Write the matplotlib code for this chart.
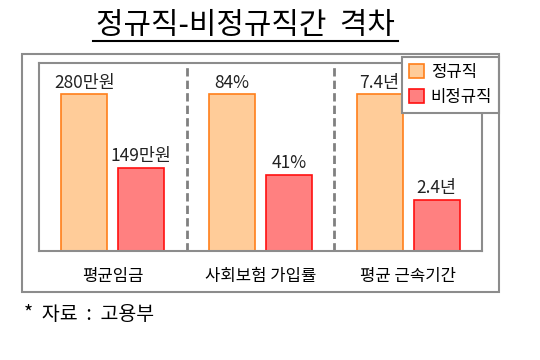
import matplotlib.pyplot as plt
from matplotlib.patches import Rectangle
import numpy as np

plt.rcParams['font.family'] = ['Noto Sans CJK KR', 'DejaVu Sans']

# 데이터
categories = ['평균임금', '사회보험 가입률', '평균 근속기간']
regular = [280, 84, 7.4]
irregular = [149, 41, 2.4]
regular_labels = ['280만원', '84%', '7.4년']
irregular_labels = ['149만원', '41%', '2.4년']
series_names = ['정규직', '비정규직']

# 그룹마다 최대값 기준으로 높이 정규화
group_max = np.maximum(regular, irregular)
reg_h = np.array(regular) / group_max
irr_h = np.array(irregular) / group_max

fig = plt.figure(figsize=(5.4, 3.6), dpi=100)

# 바깥 테두리
fig.patches.append(Rectangle((0.041, 0.189), 0.883, 0.661, transform=fig.transFigure,
                             fill=False, edgecolor='#8c8c8c', linewidth=1.5))

ax = fig.add_axes([0.0722, 0.3028, 0.8204, 0.5222])
x = np.arange(len(categories))
w = 0.31
off = 0.193
b1 = ax.bar(x - off, reg_h, w, color='#FFCC99', edgecolor='#FF7F1A', linewidth=1.2,
            label=series_names[0])
b2 = ax.bar(x + off, irr_h, w, color='#FF8080', edgecolor='#FF1010', linewidth=1.2,
            label=series_names[1])

for rect, lab in zip(b1, regular_labels):
    ax.annotate(lab, (rect.get_x() + rect.get_width() / 2, rect.get_height()),
                xytext=(0, 2), textcoords='offset points', ha='center', va='bottom',
                fontsize=12.5, color='#222222')
for rect, lab in zip(b2, irregular_labels):
    ax.annotate(lab, (rect.get_x() + rect.get_width() / 2, rect.get_height()),
                xytext=(0, 2), textcoords='offset points', ha='center', va='bottom',
                fontsize=12.5, color='#222222')

# 그룹 구분선
for xs in [0.5, 1.5]:
    ax.axvline(xs, color='#808080', linestyle=(0, (3, 1.5)), linewidth=2)

ax.set_xlim(-0.5, 2.5)
ax.set_ylim(0, 1.2)
ax.set_yticks([])
ax.set_xticks(x)
ax.set_xticklabels(categories, fontsize=12)
ax.tick_params(axis='x', length=0, pad=12)
for s in ax.spines.values():
    s.set_color('#8c8c8c')
    s.set_linewidth(1.5)

leg = ax.legend(loc='upper right', bbox_to_anchor=(0.924, 0.842),
                bbox_transform=fig.transFigure, fontsize=12, fancybox=False,
                framealpha=1, edgecolor='#8c8c8c', handlelength=0.9,
                handleheight=0.9, handletextpad=0.4, borderpad=0.4,
                labelspacing=0.5, borderaxespad=0)
leg.get_frame().set_linewidth(1.5)

# 제목 (밑줄)
fig.text(0.455, 0.928, '정규직-비정규직간  격차', ha='center', va='center', fontsize=21.5)
fig.add_artist(plt.Line2D([0.173, 0.737], [0.886, 0.886], color='black', linewidth=1.5))

fig.text(0.045, 0.125, '*  자료  :  고용부', ha='left', va='center', fontsize=14)

fig.savefig('out.png', dpi=100)
